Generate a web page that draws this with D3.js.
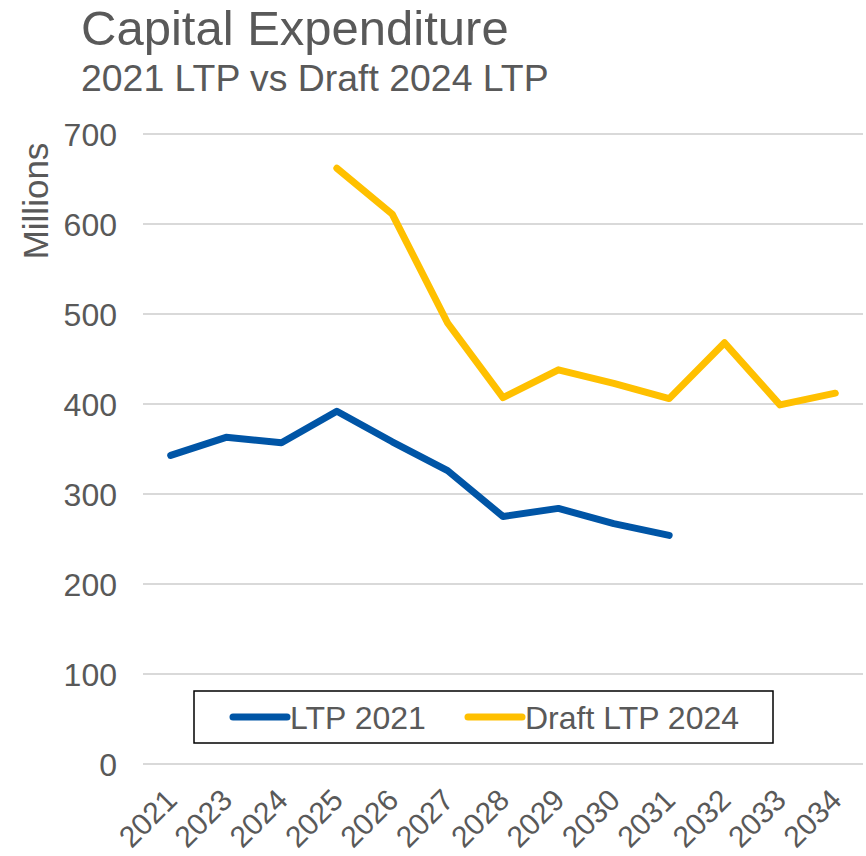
<!DOCTYPE html>
<html>
<head>
<meta charset="utf-8">
<script src="https://cdn.jsdelivr.net/npm/d3@7"></script>
<style>
  body { margin: 0; background: #fff; }
  text { font-family: "Liberation Sans", Arial, sans-serif; fill: #595959; }
</style>
</head>
<body>
<svg id="chart" width="866" height="856"></svg>
<script>
// categories (2022 is not in the source)
const years = ["2021", "2023", "2024", "2025", "2026", "2027", "2028", "2029", "2030", "2031", "2032", "2033", "2034"];
const ltp2021 = [343, 363, 357, 392, 358, 326, 275, 284, 267, 254, null, null, null];
const draft2024 = [null, null, null, 662, 611, 490, 407, 438, 423, 406, 468, 399, 412];
const yTicks = [0, 100, 200, 300, 400, 500, 600, 700];

const series = [
  { name: "LTP 2021", values: ltp2021, color: "#0055A6" },
  { name: "Draft LTP 2024", values: draft2024, color: "#FFC000" }
];

const width = 866, height = 856;
const margin = { top: 134, right: 3, bottom: 92, left: 143 };

const svg = d3.select("#chart");

const x = d3.scaleBand()
  .domain(years)
  .range([margin.left, width - margin.right]);

const y = d3.scaleLinear()
  .domain([0, 700])
  .range([height - margin.bottom, margin.top]);

// gridlines
svg.append("g")
  .selectAll("line")
  .data(yTicks)
  .join("line")
  .attr("x1", margin.left)
  .attr("x2", width - margin.right)
  .attr("y1", d => y(d))
  .attr("y2", d => y(d))
  .attr("stroke", "#d9d9d9")
  .attr("stroke-width", 2);

// y tick labels
svg.append("g")
  .selectAll("text")
  .data(yTicks)
  .join("text")
  .attr("x", 117)
  .attr("y", d => y(d))
  .attr("dy", "0.36em")
  .attr("text-anchor", "end")
  .style("font-size", "32px")
  .text(d => d);

// x tick labels, rotated
svg.append("g")
  .selectAll("text")
  .data(years)
  .join("text")
  .attr("text-anchor", "end")
  .attr("transform", d => `translate(${x(d) + x.bandwidth() / 2 + 8},${y(0) + 38}) rotate(-45)`)
  .style("font-size", "30px")
  .text(d => d);

// lines
const line = d3.line()
  .defined(d => d.v != null)
  .x(d => x(d.year) + x.bandwidth() / 2)
  .y(d => y(d.v));

svg.append("g")
  .selectAll("path")
  .data(series)
  .join("path")
  .attr("d", s => line(s.values.map((v, i) => ({ year: years[i], v }))))
  .attr("fill", "none")
  .attr("stroke", s => s.color)
  .attr("stroke-width", 7)
  .attr("stroke-linejoin", "round")
  .attr("stroke-linecap", "round");

// titles
svg.append("text")
  .attr("x", 81)
  .attr("y", 45)
  .style("font-size", "49px")
  .text("Capital Expenditure");

svg.append("text")
  .attr("x", 81)
  .attr("y", 91)
  .style("font-size", "37.4px")
  .text("2021 LTP vs Draft 2024 LTP");

// y axis title
svg.append("text")
  .attr("transform", "translate(48,201) rotate(-90)")
  .attr("text-anchor", "middle")
  .style("font-size", "35px")
  .text("Millions");

// legend
const legend = svg.append("g");
legend.append("rect")
  .attr("x", 194)
  .attr("y", 691)
  .attr("width", 579)
  .attr("height", 52)
  .attr("fill", "#fff")
  .attr("stroke", "#000")
  .attr("stroke-width", 1.5);

const legendX = [233, 468];
const items = legend.selectAll("g.item")
  .data(series)
  .join("g")
  .attr("class", "item")
  .attr("transform", (d, i) => `translate(${legendX[i]},717)`);

items.append("line")
  .attr("x1", 0)
  .attr("x2", 54)
  .attr("stroke", d => d.color)
  .attr("stroke-width", 7)
  .attr("stroke-linecap", "round");

items.append("text")
  .attr("x", 57)
  .attr("dy", "0.36em")
  .style("font-size", "32px")
  .text(d => d.name);
</script>
</body>
</html>
